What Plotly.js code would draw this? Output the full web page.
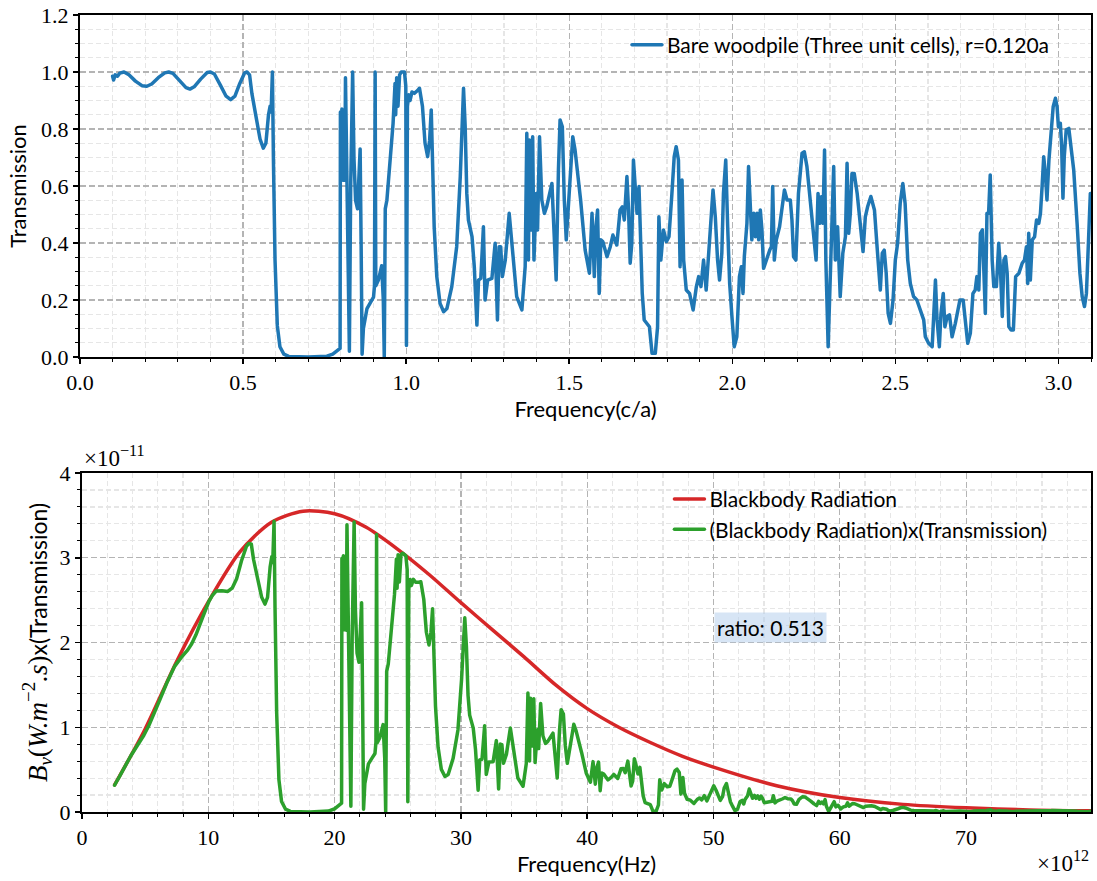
<!DOCTYPE html>
<html>
<head>
<meta charset="utf-8">
<script src="https://cdn.plot.ly/plotly-3.0.1.min.js"></script>
<style>
  html, body { margin: 0; padding: 0; background: #ffffff; }
  #chart { width: 1097px; height: 881px; }
  .js-line { stroke-linejoin: round !important; stroke-linecap: round !important; }
</style>
</head>
<body>
<div id="chart"></div>
<script>
// Transmission of a bare woodpile (three unit cells), frequency in units of c/a
const freqCA = [
  0.100, 0.103, 0.108, 0.115, 0.122, 0.135, 0.150, 0.170, 0.190, 0.205,
  0.220, 0.240, 0.260, 0.272, 0.285, 0.305, 0.325, 0.337, 0.350, 0.370,
  0.390, 0.400, 0.412, 0.430, 0.448, 0.462, 0.475, 0.490, 0.505, 0.512,
  0.520, 0.527, 0.542, 0.552, 0.562, 0.570, 0.578, 0.583, 0.586, 0.590,
  0.593, 0.598, 0.605, 0.613, 0.625, 0.640, 0.700, 0.757, 0.775, 0.792,
  0.7975, 0.7985, 0.801, 0.803, 0.806, 0.809, 0.812, 0.814, 0.818, 0.822,
  0.826, 0.830, 0.833, 0.836, 0.840, 0.845, 0.851, 0.855, 0.859, 0.862,
  0.865, 0.869, 0.874, 0.880, 0.890, 0.900, 0.903, 0.905, 0.907, 0.915,
  0.925, 0.930, 0.933, 0.936, 0.941, 0.950, 0.960, 0.966, 0.968, 0.971,
  0.975, 0.980, 0.985, 0.995, 0.999, 1.001, 1.004, 1.008, 1.012, 1.018,
  1.025, 1.035, 1.041, 1.050, 1.058, 1.066, 1.072, 1.077, 1.082, 1.086,
  1.094, 1.104, 1.115, 1.125, 1.140, 1.155, 1.166, 1.176, 1.181, 1.186,
  1.191, 1.202, 1.209, 1.217, 1.222, 1.229, 1.237, 1.242, 1.250, 1.263,
  1.273, 1.280, 1.285, 1.290, 1.295, 1.304, 1.316, 1.324, 1.339, 1.355,
  1.365, 1.370, 1.375, 1.378, 1.382, 1.388, 1.392, 1.399, 1.403, 1.409,
  1.416, 1.424, 1.431, 1.447, 1.454, 1.460, 1.467, 1.472, 1.479, 1.485,
  1.491, 1.498, 1.511, 1.518, 1.528, 1.535, 1.549, 1.562, 1.570, 1.577,
  1.582, 1.587, 1.592, 1.597, 1.603, 1.616, 1.626, 1.634, 1.646, 1.656,
  1.663, 1.669, 1.677, 1.682, 1.687, 1.692, 1.697, 1.703, 1.708, 1.714,
  1.718, 1.724, 1.730, 1.738, 1.746, 1.754, 1.764, 1.771, 1.775, 1.781,
  1.789, 1.798, 1.806, 1.815, 1.822, 1.828, 1.835, 1.840, 1.846, 1.851,
  1.859, 1.869, 1.880, 1.890, 1.897, 1.904, 1.912, 1.920, 1.927, 1.934,
  1.941, 1.948, 1.955, 1.961, 1.968, 1.973, 1.980, 1.986, 1.992, 1.999,
  2.006, 2.014, 2.022, 2.028, 2.033, 2.037, 2.045, 2.050, 2.060, 2.066,
  2.071, 2.076, 2.081, 2.086, 2.091, 2.096, 2.104, 2.115, 2.120, 2.124,
  2.129, 2.135, 2.145, 2.153, 2.160, 2.168, 2.178, 2.183, 2.188, 2.195,
  2.203, 2.214, 2.221, 2.229, 2.239, 2.249, 2.257, 2.263, 2.268, 2.273,
  2.278, 2.283, 2.287, 2.294, 2.299, 2.306, 2.311, 2.316, 2.323, 2.331,
  2.339, 2.347, 2.352, 2.357, 2.362, 2.367, 2.374, 2.383, 2.393, 2.401,
  2.408, 2.415, 2.425, 2.436, 2.444, 2.454, 2.460, 2.466, 2.472, 2.478,
  2.485, 2.493, 2.500, 2.507, 2.515, 2.523, 2.530, 2.538, 2.546, 2.556,
  2.566, 2.577, 2.587, 2.592, 2.602, 2.613, 2.618, 2.623, 2.628, 2.635,
  2.640, 2.647, 2.652, 2.659, 2.666, 2.674, 2.684, 2.698, 2.708, 2.715,
  2.722, 2.730, 2.738, 2.745, 2.750, 2.756, 2.761, 2.767, 2.771, 2.776,
  2.781, 2.786, 2.791, 2.797, 2.802, 2.810, 2.817, 2.822, 2.828, 2.833,
  2.838, 2.843, 2.848, 2.855, 2.862, 2.869, 2.879, 2.889, 2.896, 2.902,
  2.906, 2.909, 2.914, 2.920, 2.927, 2.933, 2.940, 2.945, 2.950, 2.955,
  2.960, 2.965, 2.971, 2.978, 2.984, 2.991, 2.996, 3.000, 3.006, 3.010,
  3.014, 3.018, 3.024, 3.032, 3.039, 3.047, 3.058, 3.066, 3.073, 3.080,
  3.086, 3.093, 3.098
];
const trans = [
  0.985, 0.972, 0.990, 0.985, 0.996, 1.000, 0.990, 0.968, 0.952, 0.950,
  0.958, 0.980, 0.997, 1.000, 0.995, 0.970, 0.945, 0.940, 0.948, 0.975,
  0.998, 1.000, 0.993, 0.955, 0.915, 0.903, 0.915, 0.960, 0.997, 1.000,
  0.990, 0.925, 0.835, 0.765, 0.733, 0.750, 0.850, 0.880, 0.860, 1.000,
  0.700, 0.340, 0.110, 0.036, 0.010, 0.002, 0.000, 0.003, 0.010, 0.025,
  0.030, 0.860, 0.620, 0.870, 0.620, 0.700, 0.620, 0.980, 0.700, 0.300,
  0.020, 0.600, 0.950, 1.000, 0.700, 0.550, 0.520, 0.620, 0.730, 0.400,
  0.010, 0.100, 0.140, 0.170, 0.190, 0.210, 0.250, 1.000, 0.250, 0.270,
  0.320, 0.200, 0.000, 0.520, 0.550, 0.680, 0.820, 0.960, 0.850, 0.980,
  0.880, 0.990, 1.000, 1.000, 0.950, 0.040, 0.880, 0.920, 0.900, 0.930,
  0.925, 0.935, 0.943, 0.880, 0.750, 0.703, 0.760, 0.867, 0.633, 0.457,
  0.282, 0.188, 0.159, 0.170, 0.247, 0.387, 0.633, 0.943, 0.810, 0.574,
  0.480, 0.422, 0.317, 0.112, 0.270, 0.276, 0.457, 0.200, 0.270, 0.276,
  0.399, 0.130, 0.387, 0.387, 0.282, 0.340, 0.504, 0.411, 0.212, 0.165,
  0.317, 0.785, 0.340, 0.761, 0.446, 0.773, 0.340, 0.574, 0.446, 0.773,
  0.551, 0.504, 0.527, 0.609, 0.457, 0.270, 0.656, 0.832, 0.808, 0.551,
  0.411, 0.527, 0.773, 0.726, 0.633, 0.551, 0.375, 0.294, 0.504, 0.282,
  0.457, 0.516, 0.223, 0.411, 0.405, 0.352, 0.387, 0.428, 0.393, 0.516,
  0.527, 0.481, 0.633, 0.516, 0.329, 0.399, 0.691, 0.598, 0.504, 0.598,
  0.434, 0.223, 0.130, 0.118, 0.106, 0.013, 0.013, 0.106, 0.492, 0.340,
  0.446, 0.405, 0.422, 0.574, 0.703, 0.738, 0.691, 0.317, 0.621, 0.340,
  0.235, 0.223, 0.165, 0.247, 0.282, 0.247, 0.340, 0.235, 0.340, 0.457,
  0.586, 0.492, 0.340, 0.270, 0.364, 0.574, 0.691, 0.457, 0.258, 0.142,
  0.036, 0.071, 0.282, 0.317, 0.223, 0.352, 0.469, 0.668, 0.411, 0.504,
  0.422, 0.504, 0.411, 0.516, 0.446, 0.311, 0.340, 0.375, 0.387, 0.598,
  0.340, 0.411, 0.457, 0.527, 0.586, 0.551, 0.551, 0.481, 0.352, 0.340,
  0.574, 0.715, 0.720, 0.668, 0.551, 0.422, 0.340, 0.574, 0.469, 0.562,
  0.469, 0.726, 0.340, 0.036, 0.223, 0.492, 0.668, 0.340, 0.457, 0.212,
  0.364, 0.422, 0.680, 0.434, 0.504, 0.644, 0.644, 0.574, 0.457, 0.370,
  0.492, 0.527, 0.563, 0.516, 0.387, 0.235, 0.364, 0.375, 0.294, 0.153,
  0.118, 0.200, 0.340, 0.399, 0.539, 0.609, 0.539, 0.340, 0.258, 0.212,
  0.200, 0.160, 0.130, 0.071, 0.048, 0.036, 0.153, 0.270, 0.130, 0.036,
  0.153, 0.223, 0.106, 0.142, 0.148, 0.071, 0.118, 0.200, 0.200, 0.130,
  0.048, 0.083, 0.223, 0.235, 0.282, 0.235, 0.434, 0.446, 0.340, 0.153,
  0.504, 0.504, 0.639, 0.340, 0.247, 0.247, 0.399, 0.317, 0.142, 0.340,
  0.352, 0.294, 0.106, 0.095, 0.095, 0.282, 0.294, 0.329, 0.340, 0.387,
  0.258, 0.434, 0.270, 0.411, 0.422, 0.481, 0.469, 0.504, 0.597, 0.703,
  0.644, 0.551, 0.691, 0.785, 0.878, 0.908, 0.878, 0.808, 0.820, 0.738,
  0.557, 0.703, 0.797, 0.802, 0.738, 0.656, 0.457, 0.294, 0.212, 0.177,
  0.223, 0.398, 0.574
];

// Frequency conversion: 1 c/a corresponds to this many THz
const thzPerCA = 25.77;

// Blackbody spectral radiance, frequency in THz, value in units of 1e-11
const bbTHz = [2.58, 5, 7.5, 10, 12.5, 15, 17.5, 20, 22.5, 25, 27.5, 30, 32.5,
               35, 37.5, 40, 42.5, 45, 47.5, 50, 55, 60, 65, 70, 75, 79.9];
const bbVal = [0.32, 0.98, 1.78, 2.48, 3.07, 3.42, 3.55, 3.52, 3.36, 3.10, 2.80, 2.47, 2.15,
               1.83, 1.50, 1.22, 1.00, 0.82, 0.66, 0.53, 0.31, 0.17, 0.09, 0.05, 0.025, 0.014];

const legendTop = 'Bare woodpile (Three unit cells), r=0.120a';
const legendBB = 'Blackbody Radiation';
const legendProduct = '(Blackbody Radiation)x(Transmission)';
const ratioText = 'ratio: 0.513';

// Blackbody value at an arbitrary frequency along the tabulated curve
function blackbodyAt(nu) {
  if (nu <= bbTHz[0]) return bbVal[0];
  for (let i = 1; i < bbTHz.length; i++) {
    if (nu <= bbTHz[i]) {
      const t = (nu - bbTHz[i - 1]) / (bbTHz[i] - bbTHz[i - 1]);
      return bbVal[i - 1] + t * (bbVal[i] - bbVal[i - 1]);
    }
  }
  return bbVal[bbVal.length - 1];
}

// Transmitted spectrum = blackbody radiation x transmission
const freqTHz = freqCA.map(f => f * thzPerCA);
const transmitted = freqTHz.map((nu, i) => blackbodyAt(nu) * trans[i]);

const SANS = 'Lato';
const SERIF = 'Liberation Serif';
const MAJOR_GRID = '#b4b4b4';
const MINOR_GRID = '#e6e6e6';

function axisStyle(extra) {
  return Object.assign({
    showline: true, mirror: true, linecolor: '#000000', linewidth: 2,
    ticks: 'outside', ticklen: 5, tickwidth: 1.5, tickcolor: '#000000',
    showgrid: true, gridcolor: MAJOR_GRID, gridwidth: 1.2, griddash: '6px,3px',
    zeroline: false,
    tickfont: { family: SERIF, size: 22, color: '#000000' }
  }, extra);
}
function minorStyle(dtick) {
  return {
    dtick: dtick, ticks: 'outside', ticklen: 3, tickwidth: 1, tickcolor: '#000000',
    showgrid: true, gridcolor: MINOR_GRID, gridwidth: 1.2, griddash: '5px,3px'
  };
}

const traces = [
  {
    x: freqCA, y: trans, xaxis: 'x', yaxis: 'y', type: 'scatter', mode: 'lines',
    name: legendTop, legend: 'legend', showlegend: true,
    line: { color: '#1f77b4', width: 3.5 }
  },
  {
    x: bbTHz, y: bbVal, xaxis: 'x2', yaxis: 'y2', type: 'scatter', mode: 'lines',
    name: legendBB, legend: 'legend2', showlegend: true,
    line: { color: '#d62728', width: 3.5, shape: 'spline', smoothing: 0.8 }
  },
  {
    x: freqTHz, y: transmitted, xaxis: 'x2', yaxis: 'y2', type: 'scatter', mode: 'lines',
    name: legendProduct, legend: 'legend2', showlegend: true,
    line: { color: '#2ca02c', width: 3.5 }
  }
];

const layout = {
  width: 1097, height: 881,
  margin: { l: 80, r: 6, t: 15, b: 69 },
  showlegend: true,
  paper_bgcolor: '#ffffff', plot_bgcolor: '#ffffff',
  font: { family: SANS, size: 21, color: '#000000' },
  xaxis: axisStyle({
    domain: [0, 1], anchor: 'y', range: [0, 3.1], tick0: 0, dtick: 0.5, tickformat: '.1f',
    minor: minorStyle(0.1),
    title: { text: 'Frequency(c/a)', font: { family: SANS, size: 22 }, standoff: 4 }
  }),
  yaxis: axisStyle({
    domain: [0.5709, 1], anchor: 'x', range: [0, 1.2], tick0: 0, dtick: 0.2, tickformat: '.1f',
    minor: minorStyle(0.05),
    title: { text: 'Transmission', font: { family: SANS, size: 22 }, standoff: 8 }
  }),
  xaxis2: axisStyle({
    domain: [0.002, 1], anchor: 'y2', range: [0, 3.1 * thzPerCA], tick0: 0, dtick: 10,
    minor: minorStyle(2),
    title: { text: 'Frequency(Hz)', font: { family: SANS, size: 22 }, standoff: 4 }
  }),
  yaxis2: axisStyle({
    domain: [0, 0.4253], anchor: 'x2', range: [0, 4], tick0: 0, dtick: 1,
    minor: minorStyle(0.2),
    title: {
      text: '<span style="font-family:Liberation Serif;font-size:27px"><i>B<sub>ν</sub></i>(<i>W.m</i><sup>−2</sup><i>.s</i>)</span>x(Transmission)',
      font: { family: SANS, size: 23 }, standoff: 6
    }
  }),
  legend: {
    x: 0.541, y: 0.988, xanchor: 'left', yanchor: 'top',
    bgcolor: 'rgba(0,0,0,0)', borderwidth: 0,
    font: { family: SANS, size: 21, color: '#000000' }
  },
  legend2: {
    x: 0.583, y: 0.418, xanchor: 'left', yanchor: 'top',
    bgcolor: 'rgba(0,0,0,0)', borderwidth: 0,
    font: { family: SANS, size: 21, color: '#000000' }
  },
  annotations: [
    {
      xref: 'paper', yref: 'paper', x: 0.002, y: 0.4253, xanchor: 'left', yanchor: 'bottom',
      text: '×10<sup>−11</sup>', showarrow: false,
      font: { family: SERIF, size: 23, color: '#000000' }
    },
    {
      xref: 'paper', yref: 'paper', x: 1, y: -0.042, xanchor: 'right', yanchor: 'top',
      text: '×10<sup>12</sup>', showarrow: false,
      font: { family: SERIF, size: 23, color: '#000000' }
    },
    {
      xref: 'x2', yref: 'y2', x: 50, y: 2.0, xanchor: 'left', yanchor: 'bottom',
      text: ratioText, showarrow: false, borderpad: 2,
      bgcolor: 'rgba(176,204,236,0.5)',
      font: { family: SANS, size: 21, color: '#000000' }
    }
  ]
};

Plotly.newPlot('chart', traces, layout, { staticPlot: true, displayModeBar: false });
</script>
</body>
</html>
